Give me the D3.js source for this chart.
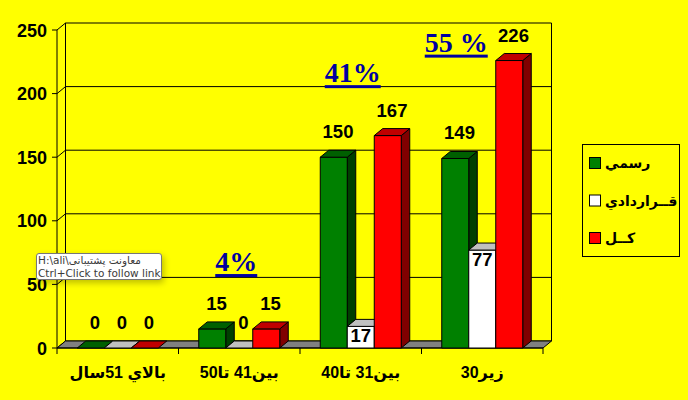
<!DOCTYPE html>
<html>
<head>
<meta charset="utf-8">
<script src="https://cdn.jsdelivr.net/npm/d3@7"></script>
<style>
  body { margin: 0; background: #ffff00; }
  #chart { position: relative; width: 688px; height: 400px; overflow: hidden; }
  .tip {
    position: absolute; left: 36px; top: 253px; width: 123px; height: 25px;
    background: #fff; border: 1px solid #777; border-radius: 3px;
    box-shadow: 2px 3px 6px rgba(0,0,0,0.25);
    font-family: "DejaVu Sans", sans-serif; font-size: 10.5px; line-height: 12.5px;
    color: #3a3a3a; padding: 0 0 0 1px; white-space: nowrap;
  }
</style>
</head>
<body>
<div id="chart"></div>
<script>
// données
const categories = ["بالاي 51سال", "بين41 تا50", "بين31 تا40", "زير30"];
const series = ["رسمي", "قراردادي", "كل"];
const legendLabels = ["رسمي", "قــراردادي", "كــل"];
const rasmi = [0, 15, 150, 149];
const gharardadi = [0, 0, 17, 77];
const kol = [0, 15, 167, 226];
const yTicks = [0, 50, 100, 150, 200, 250];
const percentLabels = ["", "4%", "41%", "55 %"];
const tipLines = ["H:\\ali\\معاونت پشتیبانی", "Ctrl+Click to follow link"];

const values = [rasmi, gharardadi, kol];
const colors = [
  { front: "#008000", top: "#006000", side: "#004000" },
  { front: "#ffffff", top: "#c0c0c0", side: "#808080" },
  { front: "#ff0000", top: "#c00000", side: "#800000" }
];

const W = 688, H = 400;
const DX = 8.5, DY = -7;
const left = 57, right = 543;

const svg = d3.select("#chart").append("svg")
    .attr("width", W)
    .attr("height", H)
    .style("display", "block");

svg.append("rect").attr("width", W).attr("height", H).attr("fill", "#ffff00");

const y = d3.scaleLinear().domain([0, 250]).range([348, 30]);
const x0 = d3.scaleBand().domain(categories).range([left, right]);
const x1 = d3.scaleBand().domain(series).range([0, x0.bandwidth()]).paddingOuter(0.75);
const y0 = y(0);

// murs (grille au fond)
const grille = svg.append("g").attr("stroke", "black").attr("stroke-width", 1).attr("fill", "none");
grille.selectAll("line.back")
    .data(yTicks)
    .enter()
    .append("line")
    .attr("x1", left + DX).attr("x2", right + DX)
    .attr("y1", d => y(d) + DY).attr("y2", d => y(d) + DY);
grille.selectAll("line.diag")
    .data(yTicks)
    .enter()
    .append("line")
    .attr("x1", left).attr("x2", left + DX)
    .attr("y1", d => y(d)).attr("y2", d => y(d) + DY);
grille.append("line")
    .attr("x1", left + DX).attr("x2", left + DX)
    .attr("y1", y(0) + DY).attr("y2", y(250) + DY);
grille.append("line")
    .attr("x1", right + DX).attr("x2", right + DX)
    .attr("y1", y(0) + DY).attr("y2", y(250) + DY);

// sol
svg.append("polygon")
    .attr("points", [[left, y0], [right, y0], [right + DX, y0 + DY], [left + DX, y0 + DY]].join(" "))
    .attr("fill", "#808080")
    .attr("stroke", "black");

// axe Y
const axeY = svg.append("g");
axeY.append("line")
    .attr("x1", left).attr("x2", left)
    .attr("y1", y0).attr("y2", y(250))
    .attr("stroke", "black");
axeY.selectAll("line.tick")
    .data(yTicks)
    .enter()
    .append("line")
    .attr("x1", left - 5).attr("x2", left)
    .attr("y1", d => y(d)).attr("y2", d => y(d))
    .attr("stroke", "black");
axeY.selectAll("text")
    .data(yTicks)
    .enter()
    .append("text")
    .attr("x", 47)
    .attr("y", d => y(d) + 6.5)
    .attr("text-anchor", "end")
    .attr("font-family", "'Liberation Sans', Arial, sans-serif")
    .attr("font-weight", "bold")
    .attr("font-size", 18)
    .text(d => d);

// axe X
svg.append("line")
    .attr("x1", left).attr("x2", right)
    .attr("y1", y0).attr("y2", y0)
    .attr("stroke", "black");
const bornes = categories.map(c => x0(c)).concat([right]);
svg.selectAll("line.xtick")
    .data(bornes)
    .enter()
    .append("line")
    .attr("x1", d => d).attr("x2", d => d)
    .attr("y1", y0).attr("y2", y0 + 6)
    .attr("stroke", "black");
svg.selectAll("text.cat")
    .data(categories)
    .enter()
    .append("text")
    .attr("x", d => x0(d) + x0.bandwidth() / 2)
    .attr("y", 378)
    .attr("text-anchor", "middle")
    .attr("direction", "rtl")
    .attr("font-family", "'Liberation Sans', 'DejaVu Sans', sans-serif")
    .attr("font-weight", "bold")
    .attr("font-size", 16)
    .text(d => d);

// barres 3D
const barres = [];
categories.forEach((c, i) => {
  series.forEach((s, j) => {
    barres.push({ cat: c, serie: j, value: values[j][i], x: x0(c) + x1(s) });
  });
});
const w = x1.bandwidth();

const gBar = svg.selectAll("g.bar")
    .data(barres)
    .enter()
    .append("g")
    .attr("stroke", "black")
    .attr("stroke-width", 1)
    .attr("stroke-linejoin", "round");

gBar.append("polygon")
    .attr("points", d => {
      const yt = y(d.value);
      return [[d.x + w, yt], [d.x + w + DX, yt + DY], [d.x + w + DX, y0 + DY], [d.x + w, y0]].join(" ");
    })
    .attr("fill", d => colors[d.serie].side)
    .attr("display", d => d.value > 0 ? null : "none");
gBar.append("rect")
    .attr("x", d => d.x)
    .attr("y", d => y(d.value))
    .attr("width", w)
    .attr("height", d => y0 - y(d.value))
    .attr("fill", d => colors[d.serie].front);
gBar.append("polygon")
    .attr("points", d => {
      const yt = y(d.value);
      return [[d.x, yt], [d.x + w, yt], [d.x + w + DX, yt + DY], [d.x + DX, yt + DY]].join(" ");
    })
    .attr("fill", d => colors[d.serie].top);

// étiquettes des valeurs (à l'intérieur pour les barres blanches)
const dedans = d => d.serie === 1 && d.value > 0;
svg.selectAll("text.val")
    .data(barres)
    .enter()
    .append("text")
    .attr("x", d => d.x + w / 2 + (dedans(d) ? 0 : DX / 2))
    .attr("y", d => dedans(d) ? y(d.value) + 16 : y(d.value) - 19)
    .attr("text-anchor", "middle")
    .attr("font-family", "'Liberation Sans', Arial, sans-serif")
    .attr("font-weight", "bold")
    .attr("font-size", 18.5)
    .text(d => d.value);

// pourcentages
const pctPlace = [null, { dx: -3, v: 60.5 }, { dx: -8, v: 209 }, { dx: -26, v: 233 }];
percentLabels.forEach((p, i) => {
  if (!p) return;
  const cx = x0(categories[i]) + x0.bandwidth() / 2 + pctPlace[i].dx;
  const by = y(pctPlace[i].v);
  const t = svg.append("text")
      .attr("x", cx)
      .attr("y", by)
      .attr("text-anchor", "middle")
      .attr("font-family", "'Liberation Serif', 'Times New Roman', serif")
      .attr("font-weight", "bold")
      .attr("font-size", 28)
      .attr("fill", "#0000a0")
      .text(p);
  const len = t.node().getComputedTextLength();
  svg.append("rect")
      .attr("x", cx - len / 2)
      .attr("y", by + 3)
      .attr("width", len)
      .attr("height", 3)
      .attr("fill", "#0000a0");
});

// légende
const leg = svg.append("g");
leg.append("rect")
    .attr("x", 582.5).attr("y", 144.5)
    .attr("width", 97).attr("height", 112)
    .attr("fill", "none").attr("stroke", "black");
const items = leg.selectAll("g.item")
    .data(legendLabels)
    .enter()
    .append("g")
    .attr("transform", (d, i) => "translate(589," + (157 + i * 37.5) + ")");
items.append("rect")
    .attr("x", 0.5).attr("y", 0.5)
    .attr("width", 11).attr("height", 11)
    .attr("fill", (d, i) => colors[i].front)
    .attr("stroke", "black");
items.append("text")
    .attr("x", 16)
    .attr("y", 11)
    .attr("font-family", "'Liberation Sans', 'DejaVu Sans', sans-serif")
    .attr("font-weight", "bold")
    .attr("font-size", 14)
    .text(d => d);

// infobulle
d3.select("#chart").append("div")
    .attr("class", "tip")
    .selectAll("div")
    .data(tipLines)
    .enter()
    .append("div")
    .text(d => d);
</script>
</body>
</html>
